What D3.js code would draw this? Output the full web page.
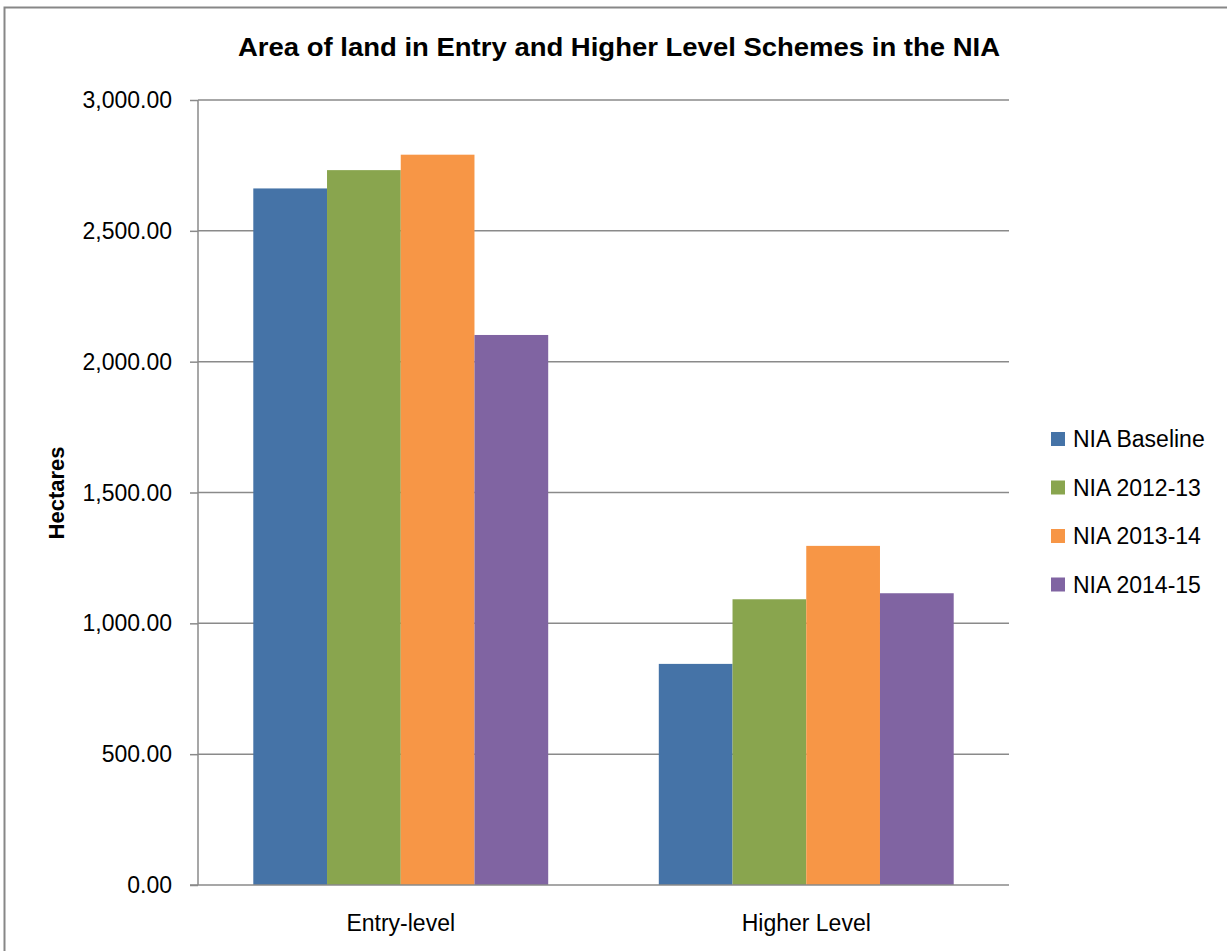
<!DOCTYPE html>
<html>
<head>
<meta charset="utf-8">
<script src="https://cdn.jsdelivr.net/npm/d3@7"></script>
<style>
  html, body { margin: 0; padding: 0; background: #fff; }
  svg { display: block; font-family: "Liberation Sans", Arial, sans-serif; }
</style>
</head>
<body>
<svg id="chart" width="1227" height="951"></svg>
<script>
// Chart data
const categories = ["Entry-level", "Higher Level"];
const seriesNames = ["NIA Baseline", "NIA 2012-13", "NIA 2013-14", "NIA 2014-15"];
const baselineValues = [2662, 845];
const values2012 = [2732, 1092];
const values2013 = [2791, 1296];
const values2014 = [2102, 1115];
const yTicks = [0, 500, 1000, 1500, 2000, 2500, 3000];
const seriesColors = ["#4573A7", "#89A54E", "#F79646", "#8064A2"];

const seriesValues = [baselineValues, values2012, values2013, values2014];

const svg = d3.select("#chart");
const W = 1227, H = 951;
const plot = { left: 198, right: 1009, top: 100, bottom: 885 };

// Outer chart frame
svg.append("rect")
  .attr("x", 4.5).attr("y", 7.5)
  .attr("width", 1240).attr("height", 960)
  .attr("fill", "#fff")
  .attr("stroke", "#878787")
  .attr("stroke-width", 2);

const x = d3.scaleBand().domain(categories).range([plot.left, plot.right]).paddingInner(0).paddingOuter(0);
const xs = d3.scaleBand().domain(seriesNames).range([0, x.bandwidth()]).paddingInner(0).paddingOuter(0.75);
const y = d3.scaleLinear().domain([0, 3000]).range([plot.bottom, plot.top]);

// Horizontal gridlines
svg.append("g")
  .selectAll("line")
  .data(yTicks.filter(d => d > 0))
  .join("line")
  .attr("x1", plot.left).attr("x2", plot.right)
  .attr("y1", d => y(d)).attr("y2", d => y(d))
  .attr("stroke", "#8a8a8a")
  .attr("stroke-width", 1.5);

// Bars
const rows = [];
categories.forEach((c, ci) => {
  seriesNames.forEach((s, si) => {
    rows.push({ cat: c, series: s, value: seriesValues[si][ci], color: seriesColors[si] });
  });
});
svg.append("g")
  .selectAll("rect")
  .data(rows)
  .join("rect")
  .attr("x", d => x(d.cat) + xs(d.series))
  .attr("y", d => y(d.value))
  .attr("width", xs.bandwidth())
  .attr("height", d => y(0) - y(d.value))
  .attr("fill", d => d.color);

// Y axis
const yAxis = d3.axisLeft(y)
  .tickValues(yTicks)
  .tickSize(8)
  .tickPadding(18)
  .tickFormat(d3.format(",.2f"));
const gy = svg.append("g").attr("transform", `translate(${plot.left},0)`).call(yAxis);
gy.select(".domain").attr("stroke", "#8a8a8a").attr("stroke-width", 1.5)
  .attr("d", `M0,${plot.top}V${plot.bottom}`);
gy.selectAll(".tick line").attr("stroke", "#8a8a8a").attr("stroke-width", 1.5);
gy.selectAll(".tick text")
  .attr("fill", "#000")
  .style("font-size", "23px")
  .attr("dy", "0.33em");

// X axis baseline and labels
const xAxis = d3.axisBottom(x).tickSize(0).tickPadding(30);
const gx = svg.append("g").attr("transform", `translate(0,${plot.bottom})`).call(xAxis);
gx.select(".domain").attr("stroke", "#8a8a8a").attr("stroke-width", 1.5)
  .attr("d", `M${plot.left - 8},0H${plot.right}`);
gx.selectAll(".tick text")
  .attr("fill", "#000")
  .style("font-size", "23px")
  .attr("dy", "0.71em");

// Title
svg.append("text")
  .attr("x", 619).attr("y", 56)
  .attr("text-anchor", "middle")
  .attr("textLength", 762)
  .attr("lengthAdjust", "spacingAndGlyphs")
  .style("font-size", "25px")
  .style("font-weight", "bold")
  .text("Area of land in Entry and Higher Level Schemes in the NIA");

// Y axis title
svg.append("text")
  .attr("transform", "translate(64,493) rotate(-90)")
  .attr("text-anchor", "middle")
  .style("font-size", "22px")
  .style("font-weight", "bold")
  .text("Hectares");

// Legend
const legend = svg.append("g").attr("transform", "translate(1051,439)");
const items = legend.selectAll("g")
  .data(seriesNames)
  .join("g")
  .attr("transform", (d, i) => `translate(0,${i * 48.5})`);
items.append("rect")
  .attr("x", 0).attr("y", -7)
  .attr("width", 14).attr("height", 14)
  .attr("fill", (d, i) => seriesColors[i]);
items.append("text")
  .attr("x", 22).attr("y", 0)
  .attr("dy", "0.36em")
  .style("font-size", "23px")
  .text(d => d);
</script>
</body>
</html>
